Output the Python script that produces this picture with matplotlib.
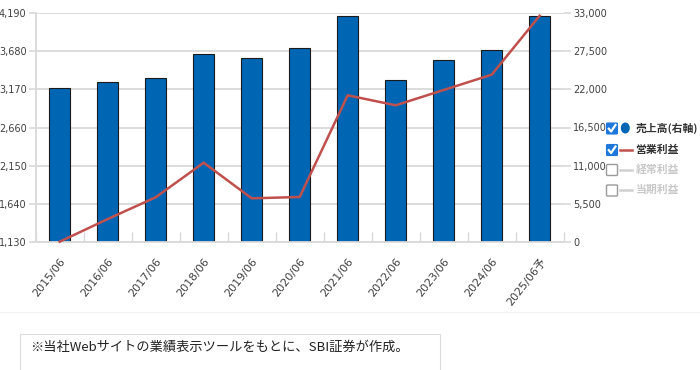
import matplotlib
matplotlib.use("Agg")
import matplotlib.pyplot as plt
from matplotlib.patches import FancyBboxPatch, Ellipse, Rectangle
from matplotlib.lines import Line2D
import numpy as np

plt.rcParams['font.family'] = ['DejaVu Sans', 'Noto Sans CJK JP']

categories = ["2015/06", "2016/06", "2017/06", "2018/06", "2019/06", "2020/06",
              "2021/06", "2022/06", "2023/06", "2024/06", "2025/06予"]
sales = [22180, 23040, 23660, 27020, 26530, 27930, 32570, 23330, 26200, 27640, 32570]
op_profit = [1138, 1440, 1730, 2191, 1716, 1734, 3089, 2956, 3160, 3364, 4150]
left_ticks = [1130, 1640, 2150, 2660, 3170, 3680, 4190]
right_ticks = [0, 5500, 11000, 16500, 22000, 27500, 33000]
legend_labels = ["売上高(右軸)", "営業利益", "経常利益", "当期利益"]
note = "※当社Webサイトの業績表示ツールをもとに、SBI証券が作成。"

W, H = 700, 370
fig = plt.figure(figsize=(W / 100, H / 100), dpi=100)

def fx(x):
    return x / W

def fy(y):
    return 1 - y / H

ax = fig.add_axes([fx(35.7), fy(242.3), (563.7 - 35.7) / W, (242.3 - 12.7) / H])
ax2 = ax.twinx()

x = np.arange(len(categories))
grid_c = "#d9d9d9"
text_c = "#404040"

# gridlines behind bars (on right axis, same positions)
ax2.set_ylim(0, 33000)
for v in right_ticks:
    ax2.axhline(v, color=grid_c, lw=1.3, zorder=0)
# bars on right axis
ax2.bar(x, sales, width=0.43, color="#0066b3", edgecolor="#1a1a1a", linewidth=0.8, zorder=2)
ax2.set_yticks(right_ticks)
ax2.set_yticklabels([f"{v:,}" for v in right_ticks])

# line on left axis (drawn above bars)
ax.set_ylim(1130, 4190)
ax.set_yticks(left_ticks)
ax.set_yticklabels([f"{v:,}" for v in left_ticks])
ax.set_xlim(-0.5, len(categories) - 0.5)
ax.set_xticks(x)
ax.set_xticklabels(categories, rotation=52, ha="right", va="top", rotation_mode="anchor")

ax.set_zorder(ax2.get_zorder() + 1)
ax.patch.set_visible(False)
ax.plot(x, op_profit, color="#c0504d", lw=1.8, zorder=5, clip_on=False)

for a in (ax, ax2):
    for s in a.spines.values():
        s.set_visible(False)
ax.spines["left"].set_visible(True)
ax.spines["left"].set_color(grid_c)
ax.spines["left"].set_linewidth(1.3)
ax.spines["bottom"].set_visible(True)
ax.spines["bottom"].set_color(grid_c)
ax.spines["bottom"].set_linewidth(1.3)

ax.tick_params(axis="y", colors=grid_c, labelcolor=text_c, labelsize=7.0, length=5, width=1.2, pad=1.5)
ax2.tick_params(axis="y", colors=grid_c, labelcolor=text_c, labelsize=7.0, length=5, width=1.2, pad=2)
ax.tick_params(axis="x", length=0, labelcolor=text_c, labelsize=8, pad=10)
# minor ticks at category boundaries, inward
ax.set_xticks(np.arange(-0.5, len(categories), 1.0), minor=True)
ax.tick_params(axis="x", which="minor", direction="in", length=7, width=1.0, colors=grid_c)

# legend drawn manually
rows_y = [128.5, 150, 170, 190.5]
box_x0, box_s = 606.5, 11

def checkbox(yc, checked):
    if checked:
        p = FancyBboxPatch((fx(box_x0), fy(yc + box_s / 2)), box_s / W, box_s / H,
                           boxstyle="round,pad=0,rounding_size=0.002",
                           facecolor="#1e78dc", edgecolor="#1e78dc", lw=0.8,
                           transform=fig.transFigure)
        fig.add_artist(p)
        fig.add_artist(Line2D([fx(box_x0 + 2.3), fx(box_x0 + 4.6), fx(box_x0 + 9)],
                              [fy(yc + 0.2), fy(yc + 3), fy(yc - 3.5)],
                              color="white", lw=1.6, transform=fig.transFigure))
    else:
        p = FancyBboxPatch((fx(box_x0), fy(yc + box_s / 2)), box_s / W, box_s / H,
                           boxstyle="round,pad=0,rounding_size=0.002",
                           facecolor="white", edgecolor="#9a9a9a", lw=1.0,
                           transform=fig.transFigure)
        fig.add_artist(p)

for i, (yc, lab) in enumerate(zip(rows_y, legend_labels)):
    checked = i < 2
    checkbox(yc, checked)
    if i == 0:
        fig.add_artist(Ellipse((fx(625.3), fy(yc - 0.5)), 9 / W, 11 / H,
                               facecolor="#0066b3", edgecolor="none", transform=fig.transFigure))
    elif i == 1:
        fig.add_artist(Line2D([fx(619.5), fx(632)], [fy(yc), fy(yc)], color="#c0504d", lw=1.8,
                              transform=fig.transFigure))
    else:
        fig.add_artist(Line2D([fx(619.5), fx(632)], [fy(yc), fy(yc)], color="#d0d0d0", lw=1.8,
                              transform=fig.transFigure))
    fig.text(fx(635.5), fy(yc - 0.5), lab, fontsize=7.8, fontweight="bold",
             color="#333333" if checked else "#c8c8c8", va="center", ha="left",
             family=["Noto Sans CJK JP", "DejaVu Sans"])

# footnote box
fig.add_artist(Line2D([fx(0), fx(700)], [fy(311.5), fy(311.5)], color="#f2f2f2", lw=0.8,
                      transform=fig.transFigure))
fig.add_artist(Rectangle((fx(20), fy(372)), (440 - 20) / W, (372 - 334) / H,
                         facecolor="white", edgecolor="#dcdcdc", lw=0.8,
                         transform=fig.transFigure))
fig.text(fx(30), fy(347), note, fontsize=9.5, color="#222222", va="center", ha="left",
         family=["Noto Sans CJK JP", "DejaVu Sans"])

fig.savefig("out.png", dpi=100)
